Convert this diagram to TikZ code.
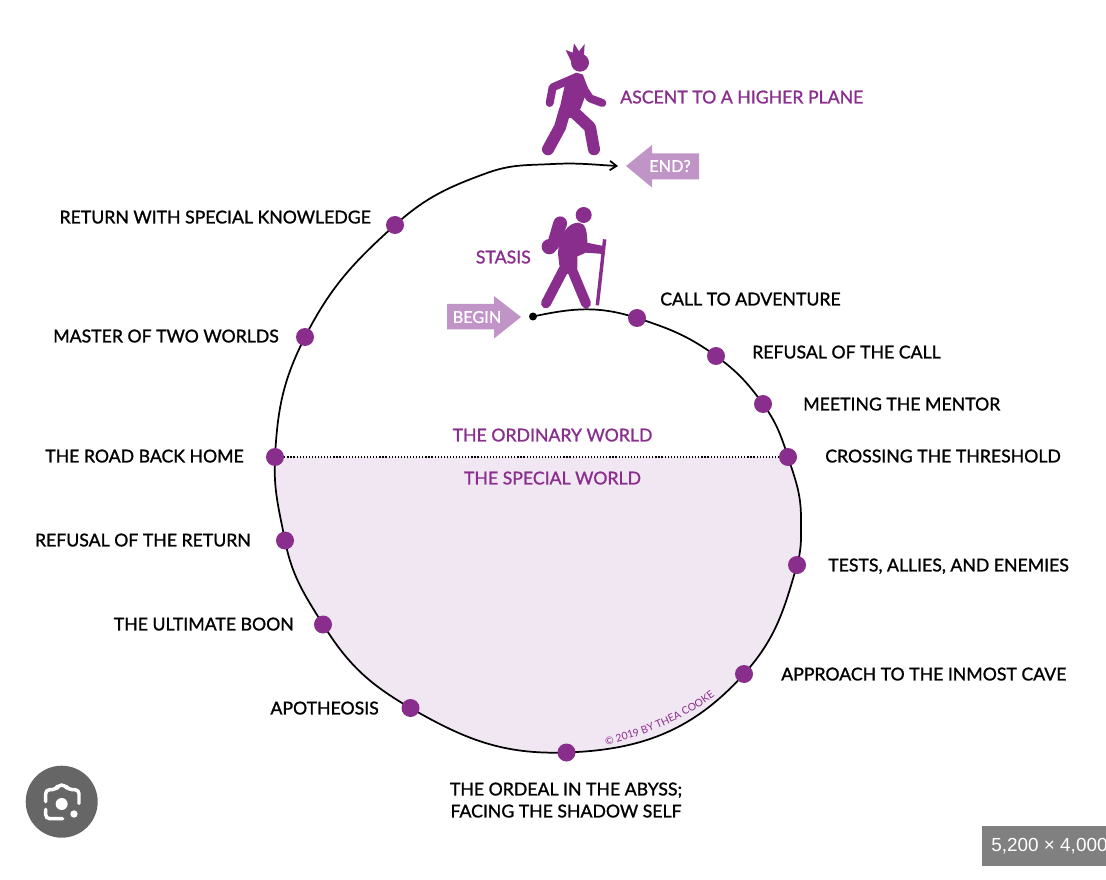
\documentclass[tikz,border=0pt]{standalone}
\usepackage{fontspec}
\setmainfont{Lato}
\newfontfamily\labelfont{Lato}[FakeBold=1.2]
\newfontfamily\badgefont{Liberation Sans}
\usetikzlibrary{arrows.meta, backgrounds, decorations.text}
\definecolor{heropurple}{HTML}{8A2E8E}
\definecolor{herolilac}{HTML}{C194C8}
\definecolor{heropale}{HTML}{F1E7F3}
\definecolor{badgegray}{HTML}{666666}
\newcommand{\heropath}{(begin.center) to[out=12, in=162] (call.center) to[out=-18, in=144] (refusalcall.center) to[out=-36, in=126] (mentor.center) to[out=-54, in=108] (threshold.center) to[out=-72, in=90] (rightside) to[out=-90, in=74] (tests.center) to[out=-106, in=48] (approach.center) to[out=-132, in=2] (ordeal.center) to[out=-178, in=-30] (apotheosis.center) to[out=150, in=-58] (boon.center) to[out=122, in=-79] (refusalreturn.center) to[out=101, in=-93] (roadback.center) to[out=87, in=-117] (master.center) to[out=63, in=-138] (knowledge.center) to[out=42, in=-160] (topleft) to[out=20, in=-177] (topmid) to[out=3, in=177] (end)}
\tikzset{
  herodot/.style={circle, fill=heropurple, minimum size=13.5pt, inner sep=0pt},
  herolabel/.style={font=\labelfont\fontsize{13.25pt}{15pt}\selectfont, text=black, inner sep=0pt, text depth=0pt},
  worldlabel/.style={herolabel, text=heropurple},
  arrowlabel/.style={herolabel, text=white, font=\labelfont\fontsize{12.2pt}{15pt}\selectfont},
  figureline/.style={draw=heropurple, fill=heropurple, line cap=round, line join=round}
}
\begin{document}
\begin{tikzpicture}[x=0.75pt, y=-0.75pt, >={Straight Barb[length=5pt, width=7pt]}]
  \useasboundingbox (0,0) rectangle (1106,880);

  % stops on the road
  \node[circle, fill=black, minimum size=6pt, inner sep=0pt] (begin) at (533,316.5) {};
  \node[herodot] (call) at (637,318) {};
  \node[herodot] (refusalcall) at (716,356) {};
  \node[herodot] (mentor) at (763,404) {};
  \node[herodot] (threshold) at (788,457) {};
  \node[herodot] (tests) at (797,565) {};
  \node[herodot] (approach) at (744,674) {};
  \node[herodot] (ordeal) at (566.5,752.5) {};
  \node[herodot] (apotheosis) at (410.5,708) {};
  \node[herodot] (boon) at (323,624.5) {};
  \node[herodot] (refusalreturn) at (285,540.5) {};
  \node[herodot] (roadback) at (275,457) {};
  \node[herodot] (master) at (305,337) {};
  \node[herodot] (knowledge) at (395,225) {};
  \coordinate (rightside) at (801,518);
  \coordinate (topleft) at (487,173);
  \coordinate (topmid) at (553,164);
  \coordinate (end) at (618,166);

  % the road and the lower half
  \begin{scope}[on background layer]
    \begin{scope}
      \clip (0,457) rectangle (1106,880);
      \fill[heropale] \heropath;
    \end{scope}
    \draw[line width=1pt, dash pattern=on 0.9pt off 1.4pt] (roadback) -- (threshold);
    \draw[->, line width=1.3pt] \heropath;
  \end{scope}

  % labels of the stops
  \node[herolabel, anchor=west] (calltext) at (660,299) {CALL TO ADVENTURE};
  \node[herolabel, anchor=west] (refusalcalltext) at (752,352) {REFUSAL OF THE CALL};
  \node[herolabel, anchor=west] (mentortext) at (803,404) {MEETING THE MENTOR};
  \node[herolabel, anchor=west] (thresholdtext) at (825,456) {CROSSING THE THRESHOLD};
  \node[herolabel, anchor=west] (teststext) at (828,565) {TESTS, ALLIES, AND ENEMIES};
  \node[herolabel, anchor=west] (approachtext) at (781,674) {APPROACH TO THE INMOST CAVE};
  \node[herolabel, align=center] (ordealtext) at (566,800) {THE ORDEAL IN THE ABYSS;\\[1.5pt]FACING THE SHADOW SELF};
  \node[herolabel, anchor=east] (apotheosistext) at (379,708) {APOTHEOSIS};
  \node[herolabel, anchor=east] (boontext) at (294,624) {THE ULTIMATE BOON};
  \node[herolabel, anchor=east] (refusalreturntext) at (251,540) {REFUSAL OF THE RETURN};
  \node[herolabel, anchor=east] (roadbacktext) at (244,456) {THE ROAD BACK HOME};
  \node[herolabel, anchor=east] (mastertext) at (279,336) {MASTER OF TWO WORLDS};
  \node[herolabel, anchor=east] (knowledgetext) at (371,217) {RETURN WITH SPECIAL KNOWLEDGE};
  \node[worldlabel] (ordinary) at (552.5,435) {THE ORDINARY WORLD};
  \node[worldlabel] (special) at (552.5,478) {THE SPECIAL WORLD};
  \node[worldlabel, anchor=west] (ascent) at (620,97) {ASCENT TO A HIGHER PLANE};
  \node[worldlabel, anchor=east] (stasis) at (531,257) {STASIS};

  % the two arrows
  \fill[herolilac] (447,304) -- (494,304) -- (494,296) -- (521,317) -- (494,338.5) -- (494,329.5) -- (447,329.5) -- cycle;
  \node[arrowlabel] (begintext) at (477,317) {BEGIN};
  \fill[herolilac] (699,153.5) -- (652,153.5) -- (652,145) -- (626,166) -- (652,187.5) -- (652,179.5) -- (699,179.5) -- cycle;
  \node[arrowlabel] (endtext) at (670,166) {END?};

  % crowned walker
  \begin{scope}[shift={(420,30)}, scale=0.3333]
    \fill[heropurple] (480,98) circle[radius=27];
    \fill[heropurple] (456,100) -- (437,60) -- (458,68) -- (462,40) -- (477,64) -- (494,42) -- (492,75) -- (505,92) -- cycle;
    \fill[figureline, line width=1pt] (440,150) -- (468,130) -- (487,135) -- (502,175) -- (480,235) -- (452,262) -- (415,262) -- cycle;
    \draw[figureline, fill=none, line width=6pt] (465,143) -- (398,172) -- (389,219);
    \draw[figureline, fill=none, line width=6pt] (484,165) -- (510,205) -- (547,219);
    \draw[figureline, fill=none, line width=9pt] (435,240) -- (420,292) -- (384,358);
    \draw[figureline, fill=none, line width=9pt] (455,240) -- (510,292) -- (522,358);
  \end{scope}

  % hiker with pack and stick
  \begin{scope}[shift={(420,190)}, scale=0.3333]
    \fill[heropurple] (491,75) circle[radius=24];
    \fill[heropurple] (388,170) circle[radius=23];
    \fill[figureline, line width=1pt, rounded corners=5pt] (408,76) -- (445,88) -- (408,188) -- (382,165) -- cycle;
    \fill[figureline, line width=1pt] (416,190) .. controls (420,130) and (448,100) .. (475,100) .. controls (495,100) and (500,125) .. (500,160) -- (550,170) -- (550,190) -- (497,186) -- (470,198) -- (470,235) -- (440,250) -- (420,225) -- cycle;
    \draw[figureline, fill=none, line width=7.5pt] (438,225) -- (378,340);
    \draw[figureline, fill=none, line width=7.5pt] (450,225) -- (498,340);
    \draw[heropurple, line width=2.6pt] (554,148) -- (532,346);
  \end{scope}

  % copyright along the curve
  \path[decorate, decoration={text along path, text={|\fontsize{7.8pt}{8pt}\selectfont\color{heropurple}|© 2019 BY THEA COOKE}}] (606,745) .. controls (645,736) and (690,718) .. (725,688);

  % screenshot leftovers
  \fill[badgegray] (61.7,801.7) circle[radius=36];
  \begin{scope}[shift={(0,750)}, scale=0.3333]
    \draw[white, line width=2.6pt, line cap=round, line join=round, rounded corners=3pt] (137,155) -- (137,119) -- (168,119) -- (175,105) -- (195,105) -- (205,119) -- (237,119) -- (237,160);
    \draw[white, line width=2.6pt, line cap=round, rounded corners=3pt] (137,178) -- (137,206) -- (188,206);
    \fill[white] (185,162) circle[radius=18];
    \fill[white] (222,192) circle[radius=11];
  \end{scope}
  \fill[gray] (982,826) rectangle (1106,866);
  \node[anchor=west, inner sep=0pt, text=white, font=\badgefont\fontsize{14.2pt}{16pt}\selectfont] (sizetext) at (991,846) {5,200 × 4,000};
\end{tikzpicture}
\end{document}
